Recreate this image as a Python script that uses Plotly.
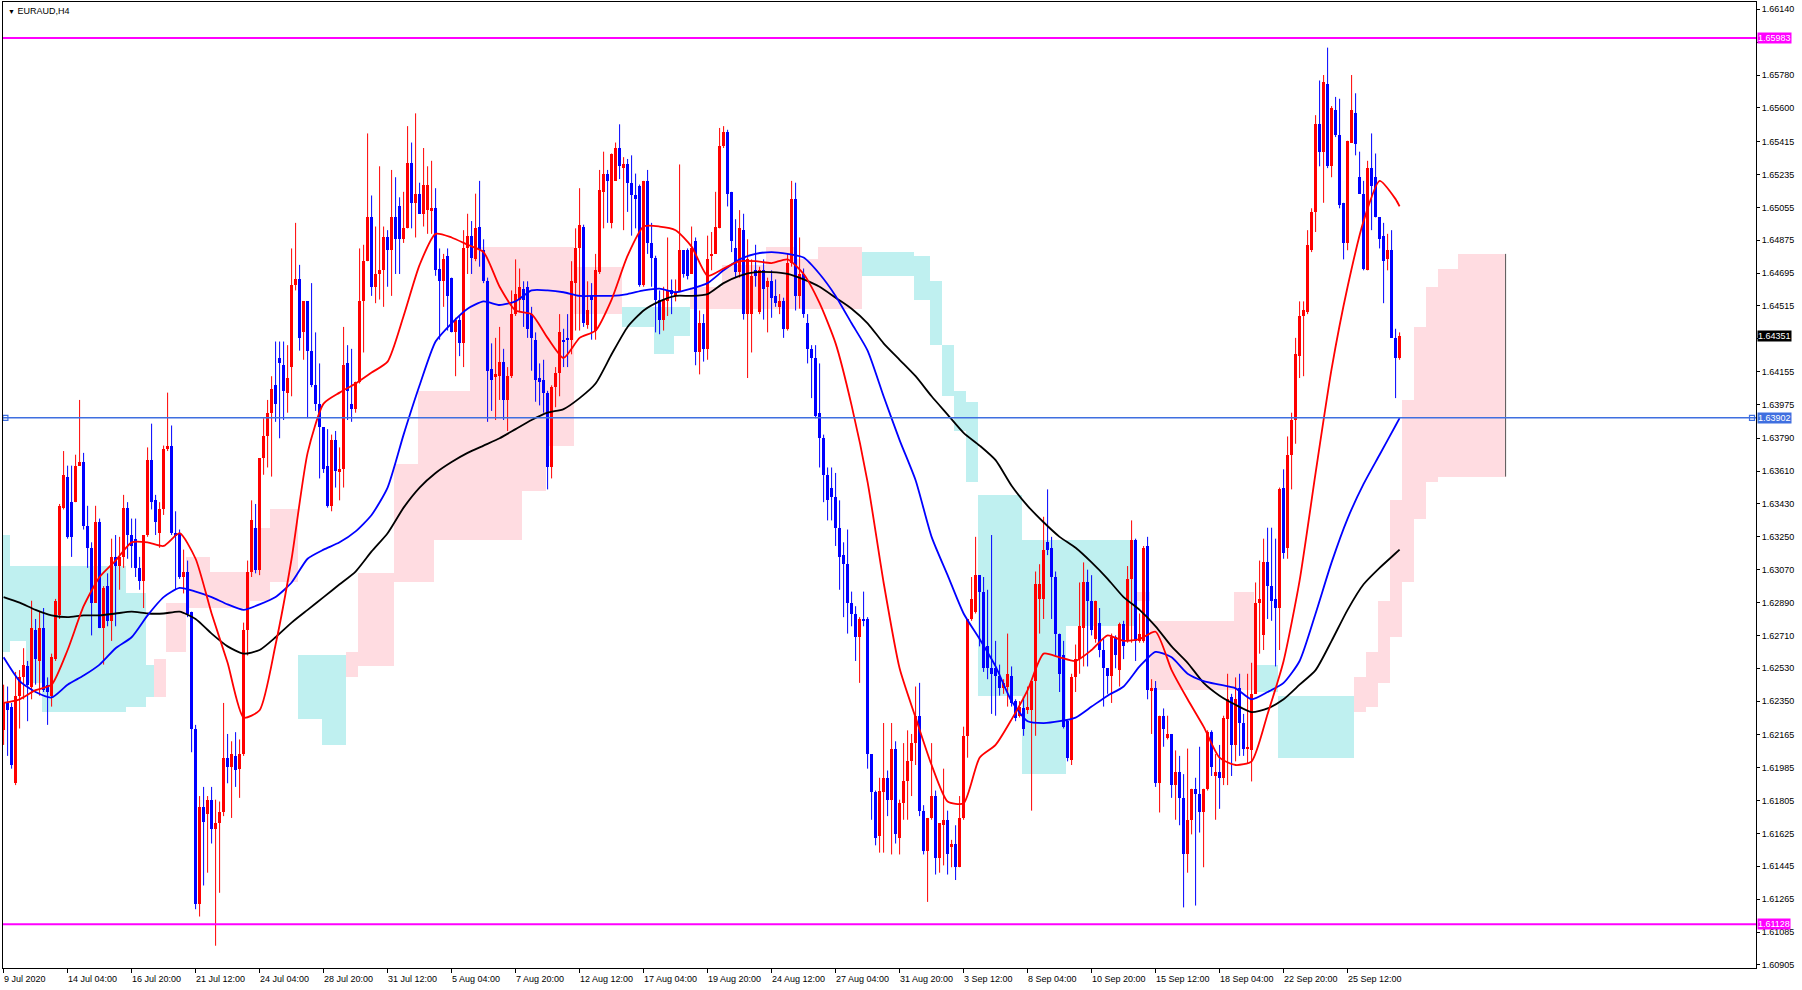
import plotly.graph_objects as go

# ---------------- data ----------------
opens = [1.6219,1.6234,1.6232,1.6190,1.6238,1.6248,1.6254,1.6243,1.6274,1.6257,1.6275,1.6244,1.6238,1.6258,1.6282,1.6341,1.6358,1.6344,1.6344,1.6364,
1.6366,1.6331,1.6319,1.6289,1.6333,1.6275,1.6298,1.6279,1.6314,1.6309,1.6314,1.6341,1.6326,1.6324,1.6308,1.6301,1.6326,1.6367,1.6345,1.6327,
1.6340,1.6373,1.6375,1.6327,1.6327,1.6303,1.6306,1.6284,1.6220,1.6124,1.6177,1.6173,1.6181,1.6165,1.6168,1.6174,1.6204,1.6199,1.6205,1.6198,
1.6206,1.6274,1.6306,1.6330,1.6307,1.6368,1.6380,1.6393,1.6408,1.6423,1.6419,1.6404,1.6418,1.6463,1.6466,1.6437,1.6454,1.6427,1.6408,1.6398,
1.6385,1.6364,1.6342,1.6378,1.6361,1.6362,1.6420,1.6398,1.6395,1.6410,1.6454,1.6476,1.6500,1.6462,1.6469,1.6471,1.6489,1.6482,1.6500,1.6506,
1.6488,1.6494,1.6530,1.6508,1.6513,1.6502,1.6504,1.6504,1.6505,1.6472,1.6465,1.6479,1.6467,1.6437,1.6444,1.6431,1.6483,1.6490,1.6477,1.6495,
1.6482,1.6465,1.6417,1.6413,1.6413,1.6421,1.6400,1.6413,1.6447,1.6455,1.6461,1.6462,1.6447,1.6433,1.6412,1.6411,1.6404,1.6363,1.6407,1.6415,
1.6433,1.6434,1.6433,1.6464,1.6483,1.6495,1.6441,1.6457,1.6438,1.6470,1.6514,1.6524,1.6497,1.6520,1.6538,1.6527,1.6529,1.6519,1.6512,1.6517,
1.6463,1.6520,1.6486,1.6478,1.6455,1.6444,1.6454,1.6460,1.6457,1.6459,1.6482,1.6482,1.6469,1.6487,1.6426,1.6442,1.6428,1.6479,1.6480,1.6494,
1.6539,1.6547,1.6514,1.6483,1.6470,1.6493,1.6447,1.6447,1.6471,1.6448,1.6471,1.6462,1.6465,1.6457,1.6451,1.6454,1.6439,1.6475,1.6510,1.6457,
1.6469,1.6442,1.6428,1.6423,1.6393,1.6379,1.6359,1.6352,1.6347,1.6330,1.6315,1.6310,1.6289,1.6283,1.6270,1.6280,1.6280,1.6206,1.6185,1.6161,
1.6185,1.6193,1.6181,1.6209,1.6160,1.6179,1.6191,1.6202,1.6212,1.6227,1.6175,1.6153,1.6171,1.6183,1.6149,1.6167,1.6170,1.6155,1.6157,1.6144,
1.6171,1.6216,1.6280,1.6284,1.6304,1.6295,1.6265,1.6253,1.6253,1.6249,1.6242,1.6243,1.6249,1.6235,1.6227,1.6231,1.6230,1.6230,1.6246,1.6291,
1.6291,1.6322,1.6319,1.6303,1.6272,1.6260,1.6224,1.6203,1.6248,1.6258,1.6275,1.6300,1.6290,1.6269,1.6278,1.6263,1.6253,1.6249,1.6270,1.6252,
1.6277,1.6268,1.6302,1.6323,1.6268,1.6268,1.6320,1.6241,1.6242,1.6190,1.6227,1.6215,1.6217,1.6189,1.6196,1.6182,1.6151,1.6170,1.6187,1.6184,
1.6174,1.6187,1.6218,1.6194,1.6196,1.6193,1.6225,1.6237,1.6211,1.6242,1.6223,1.6209,1.6208,1.6239,1.6289,1.6271,1.6311,1.6298,1.6291,1.6286,
1.6352,1.6319,1.6370,1.6389,1.6424,1.6446,1.6448,1.6482,1.6503,1.6551,1.6536,1.6573,1.6528,1.6559,1.6545,1.6508,1.6486,1.6541,1.6557,1.6522,
1.6513,1.6471,1.6527,1.6522,1.6500,1.6490,1.6477,1.6482,1.6434,1.6423]
highs = [1.6244,1.6243,1.6234,1.6251,1.6252,1.6264,1.6257,1.6290,1.6280,1.6284,1.6286,1.6248,1.6261,1.6291,1.6343,1.6372,1.6364,1.6364,1.6370,1.6400,
1.6371,1.6342,1.6322,1.6342,1.6335,1.6298,1.6305,1.6324,1.6326,1.6325,1.6348,1.6344,1.6335,1.6335,1.6314,1.6326,1.6374,1.6387,1.6348,1.6344,
1.6375,1.6404,1.6386,1.6339,1.6329,1.6318,1.6312,1.6284,1.6222,1.6183,1.6188,1.6183,1.6188,1.6181,1.6180,1.6234,1.6217,1.6213,1.6218,1.6214,
1.6278,1.6312,1.6345,1.6343,1.6368,1.6390,1.6400,1.6413,1.6432,1.6432,1.6432,1.6430,1.6483,1.6497,1.6474,1.6454,1.6454,1.6464,1.6437,1.6420,
1.6385,1.6384,1.6381,1.6383,1.6374,1.6440,1.6430,1.6428,1.6410,1.6483,1.6485,1.6546,1.6512,1.6495,1.6528,1.6495,1.6493,1.6526,1.6522,1.6511,
1.6514,1.6550,1.6541,1.6557,1.6519,1.6538,1.6528,1.6531,1.6516,1.6483,1.6480,1.6483,1.6467,1.6445,1.6446,1.6493,1.6502,1.6498,1.6513,1.6520,
1.6488,1.6467,1.6431,1.6434,1.6440,1.6428,1.6418,1.6460,1.6477,1.6472,1.6465,1.6465,1.6451,1.6437,1.6420,1.6422,1.6405,1.6408,1.6418,1.6447,
1.6439,1.6447,1.6476,1.6494,1.6516,1.6496,1.6465,1.6464,1.6480,1.6526,1.6536,1.6526,1.6535,1.6541,1.6551,1.6533,1.6532,1.6534,1.6524,1.6518,
1.6520,1.6526,1.6497,1.6479,1.6460,1.6462,1.6489,1.6466,1.6466,1.6529,1.6482,1.6483,1.6495,1.6489,1.6449,1.6447,1.6490,1.6492,1.6514,1.6549,
1.6550,1.6548,1.6514,1.6499,1.6504,1.6502,1.6488,1.6477,1.6485,1.6473,1.6477,1.6467,1.6471,1.6466,1.6458,1.6456,1.6480,1.6520,1.6519,1.6489,
1.6472,1.6447,1.6430,1.6430,1.6420,1.6381,1.6363,1.6363,1.6360,1.6345,1.6322,1.6329,1.6295,1.6287,1.6281,1.6295,1.6281,1.6206,1.6186,1.6193,
1.6223,1.6197,1.6223,1.6213,1.6181,1.6212,1.6219,1.6217,1.6243,1.6245,1.6178,1.6171,1.6212,1.6186,1.6168,1.6198,1.6175,1.6159,1.6167,1.6183,
1.6221,1.6280,1.6303,1.6325,1.6304,1.6303,1.6296,1.6326,1.6268,1.6255,1.6247,1.6272,1.6254,1.6236,1.6235,1.6237,1.6243,1.6246,1.6306,1.6310,
1.6336,1.6351,1.6325,1.6306,1.6272,1.6268,1.6225,1.6250,1.6266,1.6300,1.6311,1.6307,1.6304,1.6290,1.6286,1.6269,1.6253,1.6272,1.6271,1.6278,
1.6279,1.6309,1.6334,1.6324,1.6283,1.6320,1.6325,1.6247,1.6246,1.6227,1.6231,1.6227,1.6217,1.6208,1.6205,1.6195,1.6209,1.6187,1.6193,1.6210,
1.6187,1.6219,1.6219,1.6206,1.6211,1.6227,1.6250,1.6239,1.6248,1.6250,1.6228,1.6250,1.6256,1.6300,1.6312,1.6324,1.6330,1.6330,1.6324,1.6352,
1.6362,1.6380,1.6393,1.6434,1.6454,1.6454,1.6493,1.6505,1.6556,1.6575,1.6578,1.6593,1.6561,1.6566,1.6565,1.6508,1.6542,1.6578,1.6568,1.6536,
1.6520,1.6531,1.6546,1.6535,1.6500,1.6497,1.6491,1.6493,1.6439,1.6437]
lows = [1.6211,1.6205,1.6198,1.6189,1.6220,1.6236,1.6224,1.6236,1.6244,1.6238,1.6240,1.6222,1.6232,1.6257,1.6280,1.6340,1.6324,1.6314,1.6344,1.6364,
1.6329,1.6308,1.6271,1.6289,1.6275,1.6255,1.6276,1.6268,1.6276,1.6296,1.6308,1.6313,1.6308,1.6303,1.6296,1.6286,1.6325,1.6340,1.6326,1.6319,
1.6337,1.6372,1.6326,1.6296,1.6302,1.6294,1.6281,1.6207,1.6121,1.6117,1.6134,1.6141,1.6157,1.6101,1.6130,1.6172,1.6190,1.6171,1.6188,1.6182,
1.6205,1.6260,1.6303,1.6305,1.6304,1.6359,1.6363,1.6358,1.6388,1.6379,1.6389,1.6393,1.6402,1.6460,1.6427,1.6422,1.6390,1.6407,1.6394,1.6357,
1.6360,1.6341,1.6339,1.6352,1.6345,1.6352,1.6389,1.6388,1.6393,1.6409,1.6426,1.6476,1.6457,1.6453,1.6455,1.6451,1.6462,1.6457,1.6469,1.6469,
1.6486,1.6494,1.6494,1.6489,1.6502,1.6495,1.6491,1.6491,1.6468,1.6433,1.6451,1.6438,1.6437,1.6413,1.6424,1.6418,1.6469,1.6469,1.6476,1.6473,
1.6464,1.6388,1.6394,1.6389,1.6400,1.6389,1.6383,1.6412,1.6446,1.6448,1.6440,1.6434,1.6416,1.6399,1.6397,1.6393,1.6351,1.6357,1.6396,1.6402,
1.6418,1.6418,1.6425,1.6438,1.6438,1.6440,1.6439,1.6433,1.6433,1.6469,1.6494,1.6497,1.6494,1.6520,1.6521,1.6493,1.6503,1.6490,1.6494,1.6462,
1.6462,1.6480,1.6462,1.6437,1.6436,1.6438,1.6446,1.6447,1.6454,1.6459,1.6467,1.6466,1.6469,1.6419,1.6414,1.6421,1.6422,1.6471,1.6480,1.6494,
1.6538,1.6506,1.6481,1.6467,1.6467,1.6444,1.6412,1.6426,1.6462,1.6447,1.6444,1.6437,1.6445,1.6451,1.6447,1.6434,1.6438,1.6473,1.6449,1.6450,
1.6445,1.6420,1.6401,1.6390,1.6363,1.6344,1.6334,1.6334,1.6320,1.6296,1.6281,1.6272,1.6276,1.6257,1.6245,1.6276,1.6198,1.6170,1.6156,1.6152,
1.6152,1.6172,1.6151,1.6157,1.6151,1.6170,1.6170,1.6183,1.6200,1.6172,1.6151,1.6125,1.6170,1.6140,1.6141,1.6145,1.6140,1.6144,1.6137,1.6144,
1.6170,1.6204,1.6279,1.6283,1.6265,1.6251,1.6247,1.6228,1.6227,1.6238,1.6239,1.6232,1.6232,1.6224,1.6226,1.6216,1.6228,1.6175,1.6216,1.6272,
1.6280,1.6315,1.6280,1.6260,1.6240,1.6220,1.6202,1.6200,1.6240,1.6250,1.6254,1.6254,1.6271,1.6267,1.6259,1.6232,1.6239,1.6234,1.6253,1.6243,
1.6258,1.6267,1.6267,1.6257,1.6267,1.6267,1.6236,1.6217,1.6188,1.6174,1.6210,1.6214,1.6182,1.6170,1.6167,1.6122,1.6141,1.6162,1.6123,1.6163,
1.6144,1.6186,1.6194,1.6170,1.6176,1.6189,1.6189,1.6194,1.6202,1.6205,1.6205,1.6201,1.6191,1.6239,1.6261,1.6263,1.6280,1.6279,1.6254,1.6263,
1.6313,1.6313,1.6351,1.6376,1.6412,1.6413,1.6447,1.6481,1.6492,1.6528,1.6508,1.6527,1.6522,1.6544,1.6505,1.6477,1.6482,1.6541,1.6534,1.6513,
1.6471,1.6471,1.6493,1.6500,1.6483,1.6453,1.6471,1.6434,1.6401,1.6422]
closes = [1.6234,1.6230,1.6200,1.6238,1.6248,1.6255,1.6244,1.6275,1.6258,1.6275,1.6241,1.6240,1.6259,1.6290,1.6342,1.6359,1.6325,1.6325,1.6364,1.6366,
1.6331,1.6319,1.6289,1.6333,1.6275,1.6297,1.6279,1.6314,1.6309,1.6314,1.6341,1.6326,1.6320,1.6308,1.6301,1.6326,1.6367,1.6344,1.6333,1.6340,
1.6373,1.6375,1.6327,1.6326,1.6303,1.6306,1.6283,1.6220,1.6124,1.6177,1.6169,1.6181,1.6165,1.6168,1.6174,1.6204,1.6199,1.6206,1.6197,1.6206,
1.6274,1.6306,1.6334,1.6307,1.6368,1.6380,1.6393,1.6406,1.6398,1.6420,1.6405,1.6412,1.6463,1.6466,1.6434,1.6454,1.6427,1.6408,1.6398,1.6385,
1.6362,1.6342,1.6378,1.6361,1.6362,1.6419,1.6405,1.6395,1.6410,1.6454,1.6476,1.6500,1.6462,1.6469,1.6471,1.6489,1.6482,1.6500,1.6488,1.6488,
1.6494,1.6530,1.6508,1.6513,1.6502,1.6518,1.6518,1.6505,1.6471,1.6465,1.6477,1.6457,1.6437,1.6444,1.6431,1.6483,1.6490,1.6478,1.6494,1.6482,
1.6465,1.6416,1.6411,1.6414,1.6421,1.6400,1.6413,1.6447,1.6458,1.6462,1.6455,1.6439,1.6434,1.6411,1.6410,1.6404,1.6363,1.6407,1.6415,1.6437,
1.6432,1.6433,1.6465,1.6483,1.6496,1.6442,1.6449,1.6455,1.6471,1.6515,1.6524,1.6520,1.6535,1.6538,1.6528,1.6529,1.6519,1.6512,1.6510,1.6463,
1.6520,1.6486,1.6478,1.6455,1.6444,1.6455,1.6460,1.6458,1.6459,1.6482,1.6469,1.6468,1.6483,1.6426,1.6442,1.6428,1.6477,1.6480,1.6495,1.6539,
1.6547,1.6513,1.6487,1.6470,1.6494,1.6447,1.6477,1.6468,1.6468,1.6471,1.6461,1.6465,1.6456,1.6453,1.6454,1.6439,1.6475,1.6510,1.6457,1.6469,
1.6447,1.6428,1.6423,1.6391,1.6379,1.6359,1.6345,1.6347,1.6330,1.6314,1.6310,1.6289,1.6283,1.6270,1.6280,1.6279,1.6206,1.6185,1.6160,1.6186,
1.6193,1.6181,1.6209,1.6162,1.6179,1.6191,1.6202,1.6212,1.6227,1.6175,1.6153,1.6171,1.6183,1.6149,1.6168,1.6170,1.6151,1.6157,1.6144,1.6171,
1.6216,1.6280,1.6291,1.6304,1.6295,1.6253,1.6253,1.6250,1.6249,1.6242,1.6245,1.6250,1.6234,1.6226,1.6232,1.6220,1.6232,1.6246,1.6299,1.6299,
1.6318,1.6318,1.6303,1.6272,1.6250,1.6221,1.6204,1.6248,1.6258,1.6276,1.6300,1.6290,1.6274,1.6290,1.6263,1.6253,1.6249,1.6270,1.6260,1.6277,
1.6265,1.6302,1.6323,1.6268,1.6272,1.6319,1.6241,1.6242,1.6190,1.6227,1.6220,1.6217,1.6189,1.6196,1.6182,1.6151,1.6170,1.6187,1.6184,1.6174,
1.6187,1.6218,1.6199,1.6196,1.6193,1.6226,1.6236,1.6211,1.6236,1.6223,1.6209,1.6210,1.6239,1.6289,1.6291,1.6311,1.6298,1.6290,1.6286,1.6351,
1.6316,1.6370,1.6389,1.6425,1.6446,1.6449,1.6485,1.6503,1.6551,1.6536,1.6574,1.6528,1.6560,1.6545,1.6507,1.6486,1.6542,1.6559,1.6540,1.6513,
1.6472,1.6527,1.6517,1.6500,1.6488,1.6476,1.6482,1.6434,1.6423,1.6435]

# moving averages, read every 4 bars (last point = last bar)
ma_bars = list(range(0, 349, 4)) + [349]
ma_red = [1.6234,1.6236,1.6241,1.6244,1.6263,1.6287,1.6303,1.6312,1.6322,1.6322,1.6320,1.6327,1.6313,1.6283,1.6256,1.6226,1.6230,1.6266,1.6313,1.6371,
1.6398,1.6404,1.6409,1.6415,1.6421,1.6446,1.6474,1.6491,1.6489,1.6485,1.6481,1.6462,1.6449,1.6447,1.6434,1.6423,1.6434,1.6438,1.6455,1.6479,
1.6495,1.6495,1.6493,1.6484,1.6468,1.6472,1.6476,1.6476,1.6475,1.6477,1.6469,1.6453,1.6431,1.6397,1.6355,1.6300,1.6253,1.6226,1.6200,1.6180,
1.6179,1.6204,1.6211,1.6225,1.6241,1.6261,1.6259,1.6257,1.6263,1.6271,1.6268,1.6269,1.6273,1.6252,1.6236,1.6221,1.6204,1.6200,1.6202,1.6228,
1.6257,1.6301,1.6360,1.6417,1.6462,1.6498,1.6520,1.6510,1.6506]
ma_blue = [1.6259,1.6246,1.6240,1.6237,1.6244,1.6249,1.6255,1.6264,1.6270,1.6282,1.6292,1.6297,1.6295,1.6292,1.6288,1.6285,1.6288,1.6292,1.6300,1.6313,
1.6318,1.6322,1.6328,1.6337,1.6352,1.6381,1.6408,1.6432,1.6442,1.6450,1.6454,1.6452,1.6454,1.6460,1.6460,1.6459,1.6457,1.6457,1.6457,1.6458,
1.6460,1.6461,1.6459,1.6461,1.6464,1.6471,1.6477,1.6480,1.6481,1.6480,1.6478,1.6469,1.6457,1.6442,1.6427,1.6402,1.6378,1.6356,1.6325,1.6304,
1.6283,1.6269,1.6254,1.6235,1.6224,1.6223,1.6224,1.6226,1.6232,1.6238,1.6243,1.6254,1.6262,1.6259,1.6250,1.6246,1.6244,1.6242,1.6236,1.6240,
1.6245,1.6257,1.6283,1.6311,1.6335,1.6354,1.6370,1.6386,1.6390]
ma_black = [1.6292,1.6289,1.6285,1.6282,1.6281,1.6282,1.6282,1.6283,1.6284,1.6283,1.6283,1.6284,1.6280,1.6272,1.6265,1.6261,1.6263,1.6270,1.6278,1.6285,
1.6292,1.6299,1.6306,1.6317,1.6327,1.6341,1.6352,1.6360,1.6366,1.6371,1.6375,1.6379,1.6384,1.6389,1.6393,1.6395,1.6401,1.6409,1.6425,1.6440,
1.6449,1.6454,1.6457,1.6457,1.6458,1.6464,1.6468,1.6470,1.6470,1.6469,1.6466,1.6462,1.6456,1.6450,1.6442,1.6431,1.6422,1.6413,1.6402,1.6392,
1.6382,1.6375,1.6367,1.6353,1.6342,1.6333,1.6325,1.6319,1.6311,1.6302,1.6292,1.6285,1.6276,1.6265,1.6256,1.6245,1.6238,1.6233,1.6229,1.6231,
1.6236,1.6244,1.6252,1.6268,1.6285,1.6299,1.6308,1.6316,1.6318]

# Ichimoku cloud, as runs of bars: first bar of each run; span A and span B over the run
cloud_from = [0,2,6,10,31,36,38,41,46,52,62,67,74,80,86,89,98,104,108,117,130,136,143,155,163,168,172,180,191,198,204,215,
              228,232,235,238,241,244,255,266,283,287,308,313,319,
              338,341,344,347,350,353,356,359,364]
cloud_last = 375
span_a = [1.6326,1.6309,1.6309,1.6309,1.6294,1.6255,1.6237,1.6262,1.6286,1.6286,1.6290,1.6300,1.6260,1.6260,1.6248,1.6254,1.6300,1.6300,1.6323,1.6323,
          1.6350,1.6375,1.6447,1.6451,1.6451,1.6451,1.6450,1.6450,1.6450,1.6450,1.6450,1.6481,
          1.6479,1.6465,1.6430,1.6405,1.6399,1.6348,1.6323,1.6323,1.6290,1.6241,1.6241,1.6255,1.6238,
          1.6229,1.6232,1.6245,1.6270,1.6300,1.6335,1.6355,1.6358,1.6358]
span_b = [1.6262,1.6268,1.6245,1.6229,1.6232,1.6237,1.6258,1.6289,1.6314,1.6306,1.6330,1.6340,1.6225,1.6211,1.6262,1.6305,1.6365,1.6405,1.6405,1.6484,
          1.6484,1.6484,1.6473,1.6440,1.6425,1.6435,1.6462,1.6474,1.6484,1.6477,1.6484,1.6468,
          1.6455,1.6430,1.6402,1.6383,1.6355,1.6238,1.6195,1.6276,1.6295,1.6279,1.6295,1.6240,1.6204,
          1.6248,1.6262,1.6290,1.6345,1.6400,1.6440,1.6462,1.6472,1.6480]

date_labels = ["9 Jul 2020","14 Jul 04:00","16 Jul 20:00","21 Jul 12:00","24 Jul 04:00","28 Jul 20:00","31 Jul 12:00",
               "5 Aug 04:00","7 Aug 20:00","12 Aug 12:00","17 Aug 04:00","19 Aug 20:00","24 Aug 12:00","27 Aug 04:00",
               "31 Aug 20:00","3 Sep 12:00","8 Sep 04:00","10 Sep 20:00","15 Sep 12:00","18 Sep 04:00","22 Sep 20:00","25 Sep 12:00"]
bars_per_label = 16
price_ticks = [1.66140,1.65960,1.65780,1.65600,1.65415,1.65235,1.65055,1.64875,1.64695,1.64515,1.64335,1.64155,1.63975,
               1.63790,1.63610,1.63430,1.63250,1.63070,1.62890,1.62710,1.62530,1.62350,1.62165,1.61985,1.61805,1.61625,
               1.61445,1.61265,1.61085,1.60905]
level_magenta = [1.65983, 1.61128]
level_blue = 1.63902
last_price = 1.64351

# ---------------- figure ----------------
X_MIN, X_MAX = -0.15, 438.1
Y_MIN, Y_MAX = 1.60888, 1.66180
BULL_CLOUD = "#BFF0F0"
BEAR_CLOUD = "#FFDCE1"
FONT = "Liberation Sans, Arial, DejaVu Sans, sans-serif"

fig = go.Figure()

# cloud drawn as a histogram, run by run
cloud_to = cloud_from[1:] + [cloud_last + 1]
for bull, col in ((True, BULL_CLOUD), (False, BEAR_CLOUD)):
    xs, ws, bs, hs = [], [], [], []
    for a, b, sa, sb in zip(cloud_from, cloud_to, span_a, span_b):
        if (sa >= sb) == bull:
            xs.append((a + b) / 2 - 0.5)
            ws.append(b - a)
            bs.append(min(sa, sb))
            hs.append(abs(sa - sb))
    fig.add_trace(go.Bar(x=xs, y=hs, base=bs, width=ws, marker=dict(color=col, line=dict(width=0)),
                         hoverinfo="skip", showlegend=False))

# edge line of the cloud at its last bar
fig.add_trace(go.Scatter(x=[cloud_last + 0.5] * 2, y=[span_a[-1], span_b[-1]], mode="lines",
                         line=dict(color="#555555", width=1), hoverinfo="skip", showlegend=False))

# horizontal levels
for lv in level_magenta:
    fig.add_shape(type="line", xref="paper", x0=0, x1=1, yref="y", y0=lv, y1=lv,
                  line=dict(color="#FF00FF", width=2), layer="above")
fig.add_shape(type="line", xref="paper", x0=0, x1=1, yref="y", y0=level_blue, y1=level_blue,
              line=dict(color="#3F6FE0", width=1.5), layer="above")
fig.add_trace(go.Scatter(x=[X_MIN + 0.6, X_MAX - 1.0], y=[level_blue, level_blue], mode="markers",
                         marker=dict(symbol="square-open", size=5, color="#3F6FE0", line=dict(width=1.2)),
                         hoverinfo="skip", showlegend=False))

# candles
n = len(closes)
for up, col in ((True, "#FF0000"), (False, "#0000FF")):
    idx = [i for i in range(n) if (closes[i] >= opens[i]) == up]
    wx, wy = [], []
    for i in idx:
        wx += [i, i, None]
        wy += [lows[i], highs[i], None]
    fig.add_trace(go.Scatter(x=wx, y=wy, mode="lines", line=dict(color=col, width=1),
                             hoverinfo="skip", showlegend=False))
    fig.add_trace(go.Bar(x=idx, base=[min(opens[i], closes[i]) for i in idx],
                         y=[max(abs(closes[i] - opens[i]), 0.00004) for i in idx],
                         width=0.7, marker=dict(color=col, line=dict(width=0)),
                         hoverinfo="skip", showlegend=False))

# moving averages
for vals, col in ((ma_black, "#000000"), (ma_blue, "#0000FF"), (ma_red, "#FF0000")):
    fig.add_trace(go.Scatter(x=ma_bars, y=vals, mode="lines", line=dict(color=col, width=1.8, shape="spline", smoothing=0.6),
                             hoverinfo="skip", showlegend=False))

# date labels (left-aligned at their tick, as in MT4)
tick_pos = [k * bars_per_label for k in range(len(date_labels))]
for p, t in zip(tick_pos, date_labels):
    fig.add_annotation(x=p, y=0, xref="x", yref="paper", text=t, showarrow=False, xanchor="left", yanchor="top",
                       xshift=-2, yshift=-4, font=dict(family=FONT, size=9, color="#000000"))

# price labels with backgrounds (they cover the scale value underneath)
def price_tag(v, bg):
    fig.add_annotation(x=1, y=v, xref="paper", yref="y", text=f"{v:.5f}", showarrow=False, xanchor="left",
                       xshift=1, bgcolor=bg, borderpad=0, font=dict(family=FONT, size=9, color="#FFFFFF"))

for lv in level_magenta:
    price_tag(lv, "#FF00FF")
price_tag(level_blue, "#3F6FE0")
price_tag(last_price, "#000000")

tick_text = []
for v in price_ticks:
    hidden = any(abs(v - t) < 0.00035 and abs(v - t) > 0.0001 for t in [level_magenta[0], last_price])
    tick_text.append("" if hidden else f"{v:.5f}")

# symbol title
fig.add_annotation(x=0, y=1, xref="paper", yref="paper", text="<span style='font-size:7px'>▼</span> EURAUD,H4",
                   showarrow=False, xanchor="left", yanchor="top", xshift=3, yshift=-2,
                   font=dict(family=FONT, size=9, color="#000000"))

fig.update_layout(
    width=1802, height=990, paper_bgcolor="#FFFFFF", plot_bgcolor="#FFFFFF",
    margin=dict(l=3, r=46, t=2, b=22), barmode="overlay", bargap=0, showlegend=False,
    xaxis=dict(range=[X_MIN, X_MAX], showgrid=False, zeroline=False, tickvals=tick_pos, ticktext=[""] * len(tick_pos),
               ticks="outside", ticklen=4, tickcolor="#000000", showline=True, linecolor="#000000", linewidth=1, mirror=True),
    yaxis=dict(range=[Y_MIN, Y_MAX], side="right", showgrid=False, zeroline=False, tickvals=price_ticks,
               ticktext=tick_text, ticks="outside", ticklen=3, tickcolor="#000000",
               tickfont=dict(family=FONT, size=9, color="#000000"), showline=True, linecolor="#000000",
               linewidth=1, mirror=True),
)

fig.write_html("out.html", config={"displayModeBar": False},
               post_script="document.body.style.margin='0';document.body.style.overflow='hidden';")
